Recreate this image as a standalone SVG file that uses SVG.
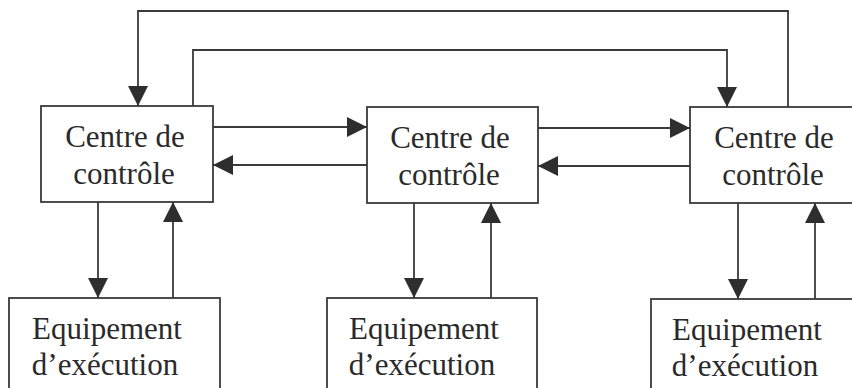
<svg xmlns="http://www.w3.org/2000/svg" width="852" height="388" viewBox="0 0 852 388">
  <style>
    .box { fill: #ffffff; stroke: #3a3a3a; stroke-width: 1.8; }
    .lbl { font-family: "Liberation Serif", "Times New Roman", serif; font-size: 31px; fill: #2a2a2a; text-anchor: middle; }
    .wire { fill: none; stroke: #3a3a3a; stroke-width: 1.8; }
  </style>
  <defs>
    <marker id="head" viewBox="0 0 20 20" markerWidth="20" markerHeight="20" refX="20" refY="10" orient="auto" markerUnits="userSpaceOnUse">
      <path d="M0,0 L20,10 L0,20 Z" fill="#2e2e2e"/>
    </marker>
  </defs>
  <rect width="852" height="388" fill="#ffffff"/>

  <!-- control centres -->
  <g id="centre1">
    <rect class="box" x="41" y="106" width="172" height="96"/>
    <text class="lbl" x="125" y="147">Centre de</text>
    <text class="lbl" x="124" y="184">contrôle</text>
  </g>
  <g id="centre2">
    <rect class="box" x="367" y="107" width="171" height="96"/>
    <text class="lbl" x="450" y="148">Centre de</text>
    <text class="lbl" x="449" y="185">contrôle</text>
  </g>
  <g id="centre3">
    <rect class="box" x="690" y="107" width="172" height="96"/>
    <text class="lbl" x="774" y="148">Centre de</text>
    <text class="lbl" x="773" y="185">contrôle</text>
  </g>

  <!-- execution equipment -->
  <g id="equip1">
    <rect class="box" x="9" y="298" width="211" height="100"/>
    <text class="lbl" x="107" y="339">Equipement</text>
    <text class="lbl" x="105" y="375">d’exécution</text>
  </g>
  <g id="equip2">
    <rect class="box" x="327" y="298" width="210" height="100"/>
    <text class="lbl" x="424" y="339">Equipement</text>
    <text class="lbl" x="422" y="375">d’exécution</text>
  </g>
  <g id="equip3">
    <rect class="box" x="651" y="299" width="210" height="100"/>
    <text class="lbl" x="747" y="340">Equipement</text>
    <text class="lbl" x="745" y="376">d’exécution</text>
  </g>

  <!-- connectors -->
  <g id="connectors">
    <!-- long loops over the top -->
    <path class="wire" d="M788,107 V11 H138 V106" marker-end="url(#head)"/>
    <path class="wire" d="M193,106 V50 H727 V107" marker-end="url(#head)"/>
    <!-- between centres -->
    <path class="wire" d="M213,127 H367" marker-end="url(#head)"/>
    <path class="wire" d="M367,165 H213" marker-end="url(#head)"/>
    <path class="wire" d="M538,128 H690" marker-end="url(#head)"/>
    <path class="wire" d="M690,166 H538" marker-end="url(#head)"/>
    <!-- centre to equipment and back -->
    <path class="wire" d="M98,202 V298" marker-end="url(#head)"/>
    <path class="wire" d="M173,298 V202" marker-end="url(#head)"/>
    <path class="wire" d="M414,203 V298" marker-end="url(#head)"/>
    <path class="wire" d="M491,298 V203" marker-end="url(#head)"/>
    <path class="wire" d="M738,203 V299" marker-end="url(#head)"/>
    <path class="wire" d="M815,299 V203" marker-end="url(#head)"/>
  </g>
</svg>
